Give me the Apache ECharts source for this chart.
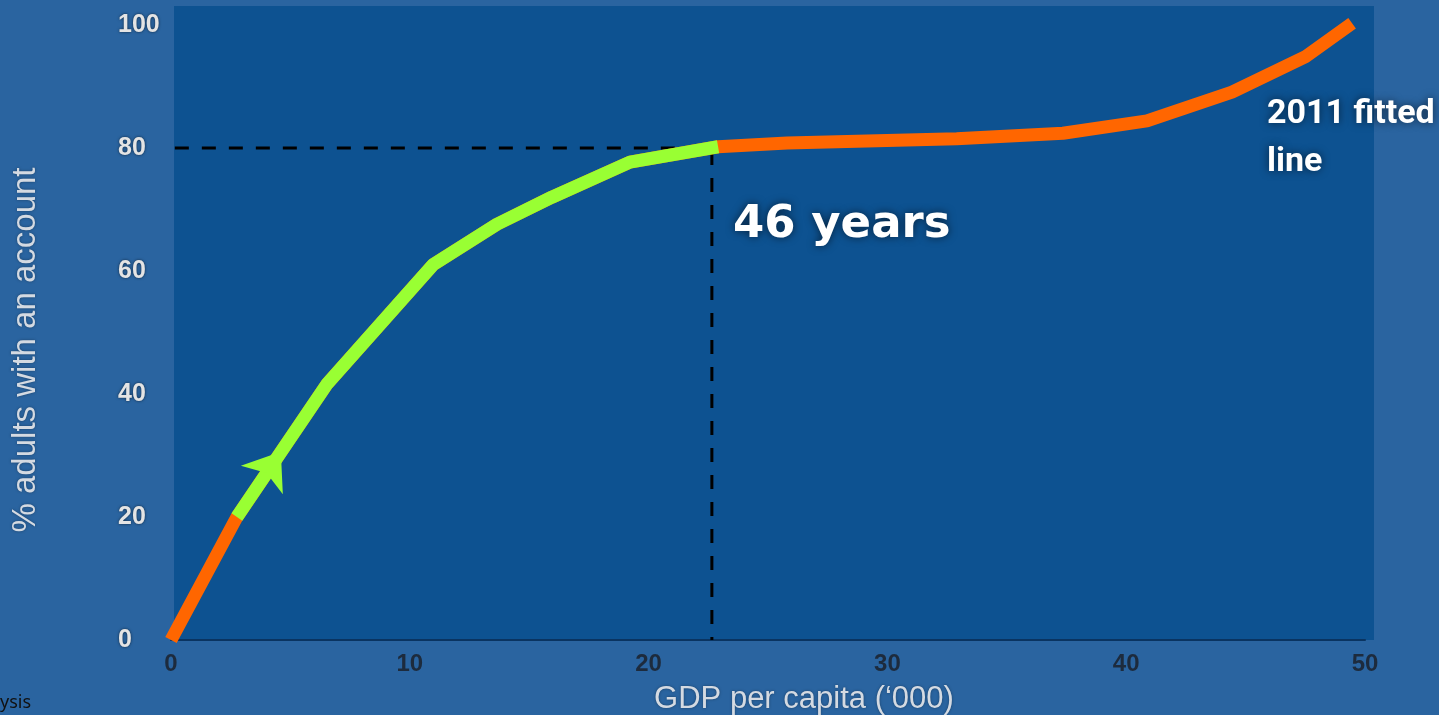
<!DOCTYPE html>
<html>
<head>
<meta charset="utf-8">
<script src="https://cdn.jsdelivr.net/npm/echarts@6/dist/echarts.min.js"></script>
<style>
  html, body { margin: 0; padding: 0; background: #2a64a0; }
  #chart { width: 1439px; height: 715px; }
</style>
</head>
<body>
<div id="chart"></div>
<script>
// Fitted account-ownership curve (GDP per capita in '000 vs % adults with an account)
const gdpX       = [0, 2.76, 6.53, 10.97, 13.65, 15.95, 19.22, 22.91, 25.8, 32.9, 37.35, 40.87, 44.43, 47.49, 49.46];
const accountPct = [0, 20.0, 41.6, 61.0, 67.6, 72.0, 77.7, 80.2, 80.8, 81.5, 82.4, 84.4, 89.1, 94.8, 100.3];
// Stretch of the curve highlighted in green (index range into the arrays above)
const highlightFrom = 1;
const highlightTo = 7;
// Reference level and the GDP where the curve reaches it
const refLevel = 80;
const refGdp = 22.65;
const refStartGdp = -0.97;
// Arrow marker on the highlighted stretch
const arrowAt = [4.6, 30.6];
// Axis ticks
const xTicks = [0, 10, 20, 30, 40, 50];
const yTicks = [0, 20, 40, 60, 80, 100];

const curve = gdpX.map((x, i) => [x, accountPct[i]]);
const highlight = curve.slice(highlightFrom, highlightTo + 1);
const refPath = [[refStartGdp, refLevel], [refGdp, refLevel], [refGdp, 0]];

const chart = echarts.init(document.getElementById('chart'));
chart.setOption({
  animation: false,
  backgroundColor: '#2a64a0',
  grid: { left: 171, right: 74, top: 25, bottom: 75 },
  graphic: [
    { type: 'rect', z: -10, shape: { x: 174, y: 6, width: 1200, height: 634 }, style: { fill: '#0d5291' } },
    { type: 'text', x: 26, y: 350, rotation: Math.PI / 2,
      style: { text: '% adults with an account', fill: '#d4dae2', font: '33px "Liberation Sans", Arial, sans-serif',
               align: 'center', verticalAlign: 'middle', textShadowColor: 'rgba(0,0,0,0.35)', textShadowBlur: 3 } },
    { type: 'text', x: 804, y: 699,
      style: { text: 'GDP per capita (\u2018000)', fill: '#d4dae2', font: '31px "Liberation Sans", Arial, sans-serif',
               align: 'center', verticalAlign: 'middle', textShadowColor: 'rgba(0,0,0,0.35)', textShadowBlur: 3 } },
    { type: 'text', x: 733, y: 225, z: 20,
      style: { text: '46 years', fill: '#ffffff', font: 'bold 45px "DejaVu Sans", sans-serif',
               align: 'left', verticalAlign: 'middle', textShadowColor: 'rgba(0,0,0,0.6)', textShadowBlur: 8 } },
    { type: 'text', x: 1267, y: 90, z: 20,
      style: { text: '2011 fitted\nline', fill: '#ffffff', font: 'bold 34px Roboto, sans-serif', lineHeight: 48,
               align: 'left', verticalAlign: 'top', textShadowColor: 'rgba(0,0,0,0.6)', textShadowBlur: 8 } },
    { type: 'text', x: 0, y: 703,
      style: { text: 'ysis', fill: '#111111', font: '18px "Noto Sans", sans-serif', align: 'left', verticalAlign: 'middle' } }
  ],
  xAxis: {
    type: 'value', min: xTicks[0], max: xTicks[xTicks.length - 1], interval: 10,
    axisLine: { show: true, lineStyle: { color: '#0a3461', width: 2 } },
    axisTick: { show: false },
    splitLine: { show: false },
    axisLabel: { color: '#1d2b3d', fontWeight: 'bold', fontSize: 24, margin: 12,
                 fontFamily: '"Liberation Sans", Arial, sans-serif' }
  },
  yAxis: {
    type: 'value', min: yTicks[0], max: yTicks[yTicks.length - 1], interval: 20,
    axisLine: { show: false },
    axisTick: { show: false },
    splitLine: { show: false },
    axisLabel: { color: '#e4e4e4', fontWeight: 'bold', fontSize: 25, margin: 53, align: 'left',
                 fontFamily: '"Liberation Sans", Arial, sans-serif', padding: [4, 0, 0, 0],
                 textShadowColor: 'rgba(0,0,0,0.6)', textShadowBlur: 3 }
  },
  series: [
    {
      name: 'reference', type: 'line', data: refPath, symbol: 'none', clip: false, z: 2,
      lineStyle: { color: '#000000', width: 3, type: [14, 13] }
    },
    {
      name: '2011 fitted line', type: 'line', data: curve, symbol: 'none', clip: false, z: 3,
      lineStyle: { color: '#ff6600', width: 13, cap: 'butt', join: 'bevel' }
    },
    {
      name: 'highlight', type: 'line', data: highlight, symbol: 'none', clip: false, z: 4,
      lineStyle: { color: '#99ff33', width: 13, cap: 'butt', join: 'bevel' },
      markPoint: {
        silent: true,
        label: { show: false },
        itemStyle: { color: '#99ff33' },
        data: [{ coord: arrowAt, symbol: 'arrow', symbolSize: [38, 34], symbolRotate: -34 }]
      }
    }
  ]
});
</script>
</body>
</html>
